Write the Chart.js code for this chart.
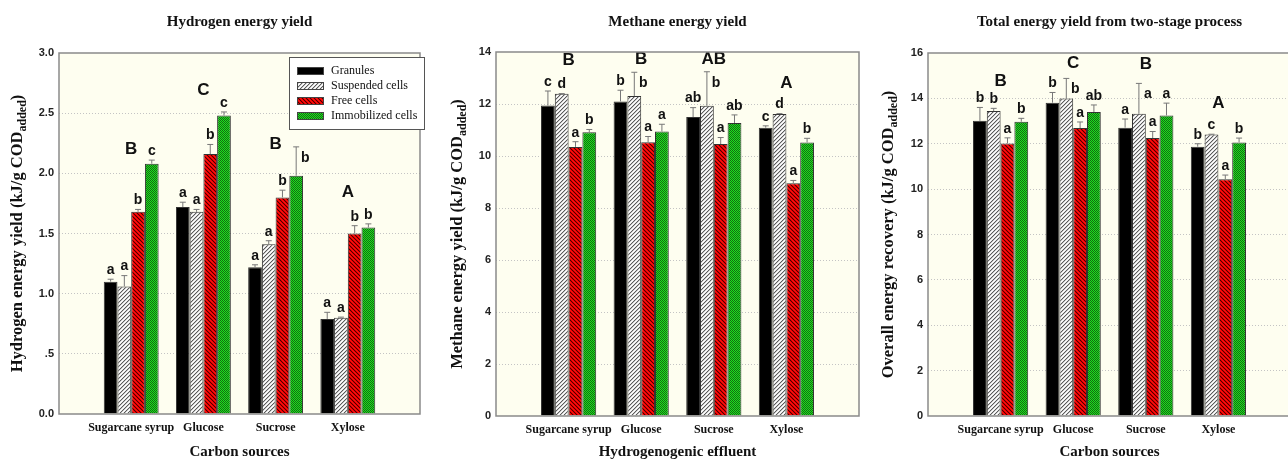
<!DOCTYPE html>
<html>
<head>
<meta charset="utf-8">
<script src="https://cdn.jsdelivr.net/npm/chart.js@4.4.0/dist/chart.umd.min.js"></script>
<style>
  html, body { margin: 0; padding: 0; background: #fff; width: 1288px; height: 460px; overflow: hidden; }
  .panel { position: absolute; top: 0; height: 460px; }
</style>
</head>
<body>
<div class="panel" style="left:0"><canvas id="h2" width="430" height="460"></canvas></div>
<div class="panel" style="left:430px"><canvas id="ch4" width="430" height="460"></canvas></div>
<div class="panel" style="left:860px"><canvas id="total" width="440" height="460"></canvas></div>
<script>
const categories = ["Sugarcane syrup", "Glucose", "Sucrose", "Xylose"];
const seriesNames = ["Granules", "Suspended cells", "Free cells", "Immobilized cells"];

// hydrogen energy yield
const h2Granules = [1.10, 1.72, 1.22, 0.79];
const h2Suspended = [1.06, 1.68, 1.41, 0.80];
const h2Free = [1.68, 2.16, 1.80, 1.50];
const h2Immobilized = [2.08, 2.48, 1.98, 1.55];
const h2Sd = [[0.02, 0.04, 0.02, 0.055], [0.09, 0.02, 0.03, 0.005], [0.02, 0.08, 0.06, 0.065], [0.03, 0.03, 0.24, 0.03]];
const h2Letters = [["a", "a", "a", "a"], ["a", "a", "a", "a"], ["b", "b", "b", "b"], ["c", "c", "b", "b"]];
const h2Groups = ["B", "C", "B", "A"];
const h2GroupAt = [2.2, 2.69, 2.24, 1.84];

// methane energy yield
const ch4Granules = [11.94, 12.10, 11.50, 11.09];
const ch4Suspended = [12.39, 12.31, 11.93, 11.62];
const ch4Free = [10.35, 10.53, 10.46, 8.95];
const ch4Immobilized = [10.91, 10.94, 11.27, 10.52];
const ch4Sd = [[0.56, 0.43, 0.36, 0.07], [0.01, 0.91, 1.31, 0.01], [0.20, 0.22, 0.25, 0.11], [0.11, 0.28, 0.31, 0.16]];
const ch4Letters = [["c", "b", "ab", "c"], ["d", "b", "b", "d"], ["a", "a", "a", "a"], ["b", "a", "ab", "b"]];
const ch4Groups = ["B", "B", "AB", "A"];
const ch4GroupAt = [13.68, 13.7, 13.7, 12.78];

// total (two-stage) energy recovery
const totGranules = [13.01, 13.81, 12.71, 11.87];
const totSuspended = [13.44, 13.99, 13.32, 12.41];
const totFree = [12.01, 12.69, 12.25, 10.44];
const totImmobilized = [12.97, 13.40, 13.25, 12.06];
const totSd = [[0.59, 0.45, 0.38, 0.13], [0.12, 0.89, 1.34, 0.01], [0.25, 0.27, 0.29, 0.18], [0.15, 0.31, 0.54, 0.19]];
const totLetters = [["b", "b", "a", "b"], ["b", "b", "a", "c"], ["a", "a", "a", "a"], ["b", "ab", "a", "b"]];
const totGroups = ["B", "C", "B", "A"];
const totGroupAt = [14.75, 15.53, 15.49, 13.79];

const SERIF = "'Liberation Serif', 'Times New Roman', serif";
const SANS = "'Liberation Sans', Arial, sans-serif";

// small pixel tiles for the bar fills
function tile(fn) {
  const c = document.createElement("canvas");
  c.width = 8; c.height = 8;
  const g = c.getContext("2d");
  for (let y = 0; y < 8; y++) {
    for (let x = 0; x < 8; x++) {
      g.fillStyle = fn(x, y);
      g.fillRect(x, y, 1, 1);
    }
  }
  return g.createPattern(c, "repeat");
}
const fills = [
  "#000000",
  tile((x, y) => ["#5a5a5a", "#c8c8c8", "#ffffff", "#e8e8e8"][(x + y) % 4]),
  tile((x, y) => ["#4a0000", "#d80000", "#ff1010", "#e80000"][(x - y + 8) % 4]),
  tile((x, y) => ((x + y) % 2 === 0 ? "#126a12" : "#1ee01e"))
];

function makePanel(id, p) {
  const canvas = document.getElementById(id);
  const W = canvas.width, H = canvas.height;
  const values = [p.granules, p.suspended, p.free, p.immobilized];

  const decor = {
    id: "decor",
    beforeDraw(chart) {
      const { ctx, chartArea: a } = chart;
      ctx.save();
      ctx.fillStyle = "#fefef0";
      ctx.fillRect(a.left, a.top, a.right - a.left, a.bottom - a.top);
      ctx.restore();
    },
    afterDatasetsDraw(chart) {
      const { ctx, chartArea: a } = chart;
      const ys = chart.scales.y, xs = chart.scales.x;
      ctx.save();
      chart.data.datasets.forEach((ds, k) => {
        const meta = chart.getDatasetMeta(k);
        for (let i = 1; i <= categories.length; i++) {
          const el = meta.data[i];
          const v = ds.data[i];
          const top = ys.getPixelForValue(v + p.sd[k][i - 1]);
          ctx.strokeStyle = "#777";
          ctx.lineWidth = 1;
          ctx.beginPath();
          ctx.moveTo(el.x, el.y);
          ctx.lineTo(el.x, top);
          ctx.moveTo(el.x - 3, top);
          ctx.lineTo(el.x + 3, top);
          ctx.stroke();

          ctx.fillStyle = "#111";
          ctx.font = "bold 14px " + SANS;
          ctx.textAlign = "center";
          ctx.textBaseline = "middle";
          const txt = p.letters[k][i - 1];
          if (el.y - top > 18) {
            ctx.fillText(txt, el.x + 9, top + 11);
          } else {
            ctx.fillText(txt, el.x, top - 9);
          }
        }
      });
      ctx.font = "bold 17px " + SANS;
      ctx.fillStyle = "#111";
      p.groups.forEach((g, i) => {
        ctx.fillText(g, xs.getPixelForValue(i + 1), ys.getPixelForValue(p.groupAt[i]));
      });
      ctx.strokeStyle = "#8a8a8a";
      ctx.lineWidth = 1.5;
      ctx.strokeRect(a.left, a.top, a.right - a.left, a.bottom - a.top);
      ctx.restore();
    },
    afterDraw(chart) {
      const { ctx, chartArea: a } = chart;
      const cx = (a.left + a.right) / 2;
      ctx.save();
      ctx.fillStyle = "#111";
      ctx.textAlign = "center";
      ctx.textBaseline = "middle";
      ctx.font = "bold 15px " + SERIF;
      ctx.fillText(p.title, cx, 22);
      ctx.fillText(p.xTitle, cx, 452);

      // rotated y title with subscript
      ctx.translate(p.yTitleX, (a.top + a.bottom) / 2);
      ctx.rotate(-Math.PI / 2);
      const big = "bold 16.5px " + SERIF, small = "bold 12px " + SERIF;
      ctx.font = big;
      const w1 = ctx.measureText(p.yTitle).width;
      const w3 = ctx.measureText(")").width;
      ctx.font = small;
      const w2 = ctx.measureText("added").width;
      let x0 = -(w1 + w2 + w3) / 2;
      ctx.textAlign = "left";
      ctx.font = big;
      ctx.fillText(p.yTitle, x0, 0);
      ctx.font = small;
      ctx.fillText("added", x0 + w1, 5);
      ctx.font = big;
      ctx.fillText(")", x0 + w1 + w2, 0);
      ctx.restore();

      if (p.legend) {
        ctx.save();
        ctx.fillStyle = "#fff";
        ctx.fillRect(289, 57, 135, 72);
        ctx.strokeStyle = "#555";
        ctx.lineWidth = 1;
        ctx.strokeRect(289.5, 57.5, 135, 72);
        ctx.font = "12px " + SERIF;
        ctx.textAlign = "left";
        ctx.textBaseline = "middle";
        seriesNames.forEach((name, k) => {
          const y = 71 + k * 15;
          ctx.fillStyle = fills[k];
          ctx.fillRect(297, y - 4, 27, 8);
          ctx.strokeStyle = "#444";
          ctx.strokeRect(297.5, y - 3.5, 26, 7);
          ctx.fillStyle = "#111";
          ctx.fillText(name, 331, y);
        });
        ctx.restore();
      }
    }
  };

  return new Chart(canvas, {
    type: "bar",
    data: {
      labels: ["", ...categories, ""],
      datasets: seriesNames.map((name, k) => ({
        label: name,
        data: [null, ...values[k], null],
        backgroundColor: fills[k],
        borderColor: "#333",
        borderWidth: 1
      }))
    },
    options: {
      responsive: false,
      animation: false,
      layout: { padding: { top: p.area.top, right: W - p.area.right, left: 0, bottom: 0 } },
      datasets: { bar: { categoryPercentage: 0.76, barPercentage: 1 } },
      plugins: { legend: { display: false }, tooltip: { enabled: false } },
      scales: {
        x: {
          type: "category",
          offset: false,
          grid: { display: false },
          border: { display: false },
          ticks: {
            color: "#111", autoSkip: false, maxRotation: 0, padding: -1,
            font: { family: SERIF, size: 12, weight: "bold" }
          },
          afterFit(s) { s.height = H - p.area.bottom; }
        },
        y: {
          min: 0, max: p.yMax,
          ticks: {
            stepSize: p.step, color: "#222", padding: 5,
            font: { family: SANS, size: 11, weight: "bold" },
            callback: p.tickFmt
          },
          grid: {
            drawTicks: false,
            lineWidth: 1,
            color: (c) => (c.tick && (c.tick.value === 0 || c.tick.value === p.yMax)) ? "rgba(0,0,0,0)" : "#c4c4c4"
          },
          border: { display: false, dash: [1, 2] },
          afterFit(s) { s.width = p.area.left; }
        }
      }
    },
    plugins: [decor]
  });
}

makePanel("h2", {
  granules: h2Granules, suspended: h2Suspended, free: h2Free, immobilized: h2Immobilized,
  sd: h2Sd, letters: h2Letters, groups: h2Groups, groupAt: h2GroupAt,
  yMax: 3, step: 0.5,
  tickFmt: (v) => (v === 0.5 ? ".5" : v.toFixed(1)),
  title: "Hydrogen energy yield",
  xTitle: "Carbon sources",
  yTitle: "Hydrogen energy yield (kJ/g COD",
  yTitleX: 18,
  area: { left: 59, right: 420, top: 53, bottom: 414 },
  legend: true
});

makePanel("ch4", {
  granules: ch4Granules, suspended: ch4Suspended, free: ch4Free, immobilized: ch4Immobilized,
  sd: ch4Sd, letters: ch4Letters, groups: ch4Groups, groupAt: ch4GroupAt,
  yMax: 14, step: 2,
  tickFmt: (v) => String(v),
  title: "Methane energy yield",
  xTitle: "Hydrogenogenic effluent",
  yTitle: "Methane energy yield (kJ/g COD",
  yTitleX: 28,
  area: { left: 66, right: 429, top: 52, bottom: 416 },
  legend: false
});

makePanel("total", {
  granules: totGranules, suspended: totSuspended, free: totFree, immobilized: totImmobilized,
  sd: totSd, letters: totLetters, groups: totGroups, groupAt: totGroupAt,
  yMax: 16, step: 2,
  tickFmt: (v) => String(v),
  title: "Total energy yield from two-stage process",
  xTitle: "Carbon sources",
  yTitle: "Overall energy recovery (kJ/g COD",
  yTitleX: 29,
  area: { left: 68, right: 431, top: 53, bottom: 416 },
  legend: false
});
</script>
</body>
</html>
